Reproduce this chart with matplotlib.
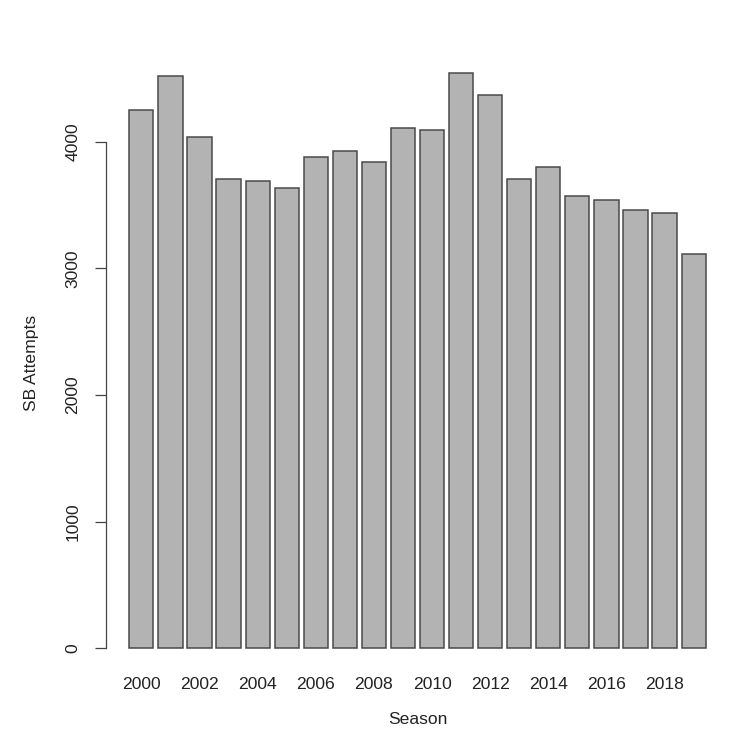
import matplotlib
matplotlib.use("Agg")
import matplotlib.pyplot as plt
import numpy as np

seasons = list(range(2000, 2020))
sb_attempts = [4250, 4516, 4035, 3708, 3692, 3637, 3879, 3927, 3837, 4106,
               4092, 4545, 4371, 3705, 3803, 3571, 3542, 3463, 3435, 3116]
y_ticks = [0, 1000, 2000, 3000, 4000]
x_label_years = [y for y in seasons if y % 2 == 0]

plt.rcParams['font.family'] = ['Liberation Sans', 'DejaVu Sans']

W, H = 752, 744
fig = plt.figure(figsize=(W / 100, H / 100), dpi=100)
left, right, top, bottom = 106.2, 728.8, 49.7, 671.3
ax = fig.add_axes([left / W, 1 - bottom / H, (right - left) / W, (bottom - top) / H])

n = len(seasons)
xpos = 0.7 + 1.2 * np.arange(n)
ax.bar(xpos, sb_attempts, width=1.0, color='#b3b3b3', edgecolor='#4a4a4a', linewidth=1.1)

lo, hi = 0.2, 1.2 * n
ax.set_xlim(lo - 0.04 * (hi - lo), hi + 0.04 * (hi - lo))
ymax = max(sb_attempts)
ax.set_ylim(-0.04 * ymax, 1.04 * ymax)

for s in ['top', 'right', 'bottom']:
    ax.spines[s].set_visible(False)
ax.spines['left'].set_bounds(0, 4000)
ax.spines['left'].set_position(('data', lo - 0.04 * (hi - lo)))
ax.spines['left'].set_color('#444444')
ax.spines['left'].set_linewidth(0.9)

fs = 12.6
ax.set_yticks(y_ticks)
ax.set_yticklabels([str(v) for v in y_ticks], rotation=90, va='center', fontsize=fs, color='#222222')
ax.tick_params(axis='y', length=7.7, width=0.9, color='#444444', pad=11)

lab_pos = [xpos[seasons.index(y)] for y in x_label_years]
ax.set_xticks(lab_pos)
ax.set_xticklabels([str(y) for y in x_label_years], fontsize=fs, color='#222222')
ax.tick_params(axis='x', length=0, pad=4)

fig.text(417.5 / W, 1 - 720 / H, 'Season', ha='center', va='center', fontsize=fs, color='#222222')
fig.text(31.7 / W, 1 - 363 / H, 'SB Attempts', ha='center', va='center', rotation=90, fontsize=fs, color='#222222')

fig.savefig('out.png', dpi=100, facecolor='white')
